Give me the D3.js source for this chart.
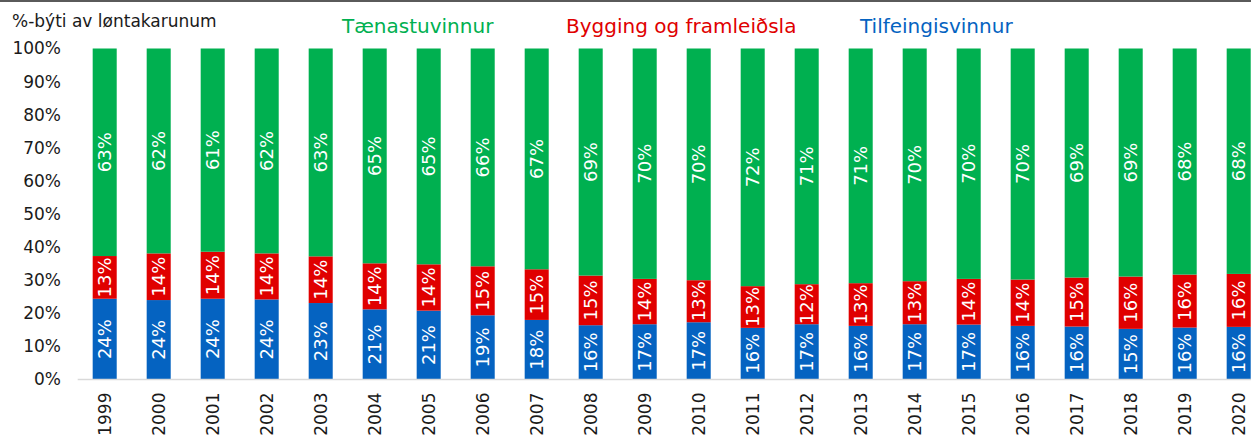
<!DOCTYPE html>
<html>
<head>
<meta charset="utf-8">
<script src="https://cdn.jsdelivr.net/npm/d3@7"></script>
<style>
  html, body { margin: 0; padding: 0; background: #fff; overflow: hidden; }
  svg { display: block; font-family: "DejaVu Sans", Verdana, sans-serif; }
</style>
</head>
<body>
<svg id="chart" width="1251" height="444"></svg>
<script>
const years = ["1999","2000","2001","2002","2003","2004","2005","2006","2007","2008","2009","2010","2011","2012","2013","2014","2015","2016","2017","2018","2019","2020"];
const tilfeingisvinnur = [24.4,24.0,24.4,24.2,23.1,21.2,20.8,19.4,18.0,16.4,16.7,17.3,15.6,16.7,16.2,16.7,16.6,16.2,16.0,15.3,15.7,15.9];
const bygging = [12.9,14.1,14.2,13.9,14.1,13.9,14.0,14.8,15.3,15.0,13.7,12.7,12.6,12.1,12.9,13.0,13.8,14.0,14.8,15.8,16.0,16.0];
const taenastu = [62.7,61.9,61.4,61.9,62.8,64.9,65.2,65.8,66.7,68.6,69.6,70.0,71.8,71.2,70.9,70.3,69.6,69.8,69.2,68.9,68.3,68.1];
const yTicks = [0,10,20,30,40,50,60,70,80,90,100];
const seriesNames = ["Tilfeingisvinnur","Bygging og framleiðsla","Tænastuvinnur"];
const colors = ["#0563c1","#e00000","#00b050"];
const title = "%-býti av løntakarunum";

const svg = d3.select("#chart");
const W = 1251, H = 444;

const x = d3.scaleBand().domain(years).range([77.7, 1265.7]).paddingInner(0.555).paddingOuter(0.2775);
const y = d3.scaleLinear().domain([0,100]).range([379.5, 48.5]);

// top border
svg.append("rect").attr("x",0).attr("y",0).attr("width",W).attr("height",2).attr("fill","#5a5a5a");

const rows = years.map((yr,i)=>({year:yr, s0:tilfeingisvinnur[i], s1:bygging[i], s2:taenastu[i]}));
const stack = d3.stack().keys(["s0","s1","s2"]);
const layers = stack(rows);

// y axis labels
const yAxis = d3.axisLeft(y).tickValues(yTicks).tickFormat(d=>d+"%").tickSize(0).tickPadding(0);
const gy = svg.append("g").attr("transform","translate(61,0)").call(yAxis);
gy.select(".domain").remove();
gy.attr("font-size",null).attr("font-family",null);
gy.selectAll("text").attr("font-size","17px").attr("fill","#1a1a1a");

// bars
layers.forEach((layer,li)=>{
  const g = svg.append("g");
  g.selectAll("rect").data(layer).join("rect")
    .attr("x", d=>x(d.data.year))
    .attr("width", x.bandwidth())
    .attr("y", d=>y(d[1]))
    .attr("height", d=>y(d[0])-y(d[1]))
    .attr("fill", colors[li]);
  g.selectAll("text").data(layer).join("text")
    .attr("transform", d=>{
      const cx = x(d.data.year)+x.bandwidth()/2;
      const cy = (y(d[0])+y(d[1]))/2;
      return `translate(${cx},${cy}) rotate(-90)`;
    })
    .attr("text-anchor","middle")
    .attr("dy","0.36em")
    .attr("font-size","18px")
    .attr("fill","#ffffff")
    .text(d=>Math.round(d[1]-d[0])+"%");
});

// x axis
const xAxis = d3.axisBottom(x).tickSize(0).tickPadding(0);
const gx = svg.append("g").attr("transform","translate(0,379.5)").call(xAxis);
gx.select(".domain").remove();
gx.attr("font-size",null).attr("font-family",null);
gx.selectAll("text")
  .attr("font-size","17px").attr("fill","#1a1a1a")
  .attr("text-anchor","end")
  .attr("transform","translate(0,13) rotate(-90)")
  .attr("x",0).attr("y",0).attr("dy","0.36em");
svg.append("line").attr("x1",77.7).attr("x2",W).attr("y1",379.5).attr("y2",379.5)
  .attr("stroke","#d9d9d9").attr("stroke-width",1.5);

// title
svg.append("text").attr("x",12).attr("y",27).attr("font-size","17px").attr("fill","#1a1a1a").text(title);

// legend texts
const legX = [342, 566, 860];
const legOrder = [2,1,0];
legOrder.forEach((si,k)=>{
  svg.append("text").attr("x",legX[k]).attr("y",33).attr("font-size","20px")
    .attr("fill",colors[si]).text(seriesNames[si]);
});
</script>
</body>
</html>
